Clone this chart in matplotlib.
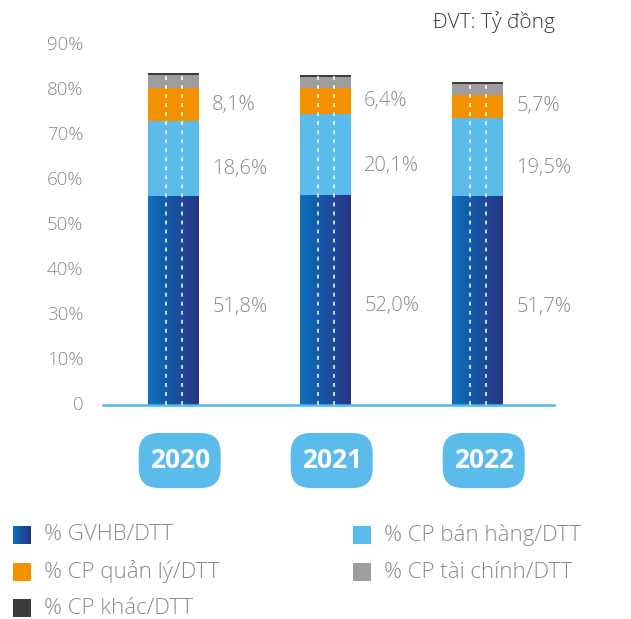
import numpy as np
import matplotlib
matplotlib.use("Agg")
import matplotlib.pyplot as plt
from matplotlib.patches import FancyBboxPatch, Rectangle
from matplotlib.colors import LinearSegmentedColormap

plt.rcParams['font.family'] = ['Open Sans', 'DejaVu Sans']

# ---- data ----
years = ['2020', '2021', '2022']
gvhb = [51.8, 52.0, 51.7]          # % GVHB/DTT
cp_banhang = [18.6, 20.1, 19.5]    # % CP bán hàng/DTT
cp_quanly = [8.1, 6.4, 5.7]        # % CP quản lý/DTT
cp_taichinh = [3.4, 2.8, 2.6]      # % CP tài chính/DTT (estimated)
cp_khac = [0.5, 0.5, 0.5]          # % CP khác/DTT (estimated)
ytick_labels = ['0', '10%', '30%', '40%', '50%', '60%', '70%', '80%', '90%']
legend_labels = ['% GVHB/DTT', '% CP bán hàng/DTT', '% CP quản lý/DTT',
                 '% CP tài chính/DTT', '% CP khác/DTT']
unit_text = 'ĐVT: Tỷ đồng'

# ---- style ----
c_light = '#5bbcec'
c_orange = '#f39200'
c_gray = '#9d9d9d'
c_dark = '#3c3c3c'
c_axis = '#4ab8e8'
c_text = '#8a8a8a'
grad_cmap = LinearSegmentedColormap.from_list('g', ['#0b70bd', '#283584'])

W, H = 631, 619
fig = plt.figure(figsize=(W / 100, H / 100), dpi=100)
px_per_unit = 4.035
ax_top_px, ax_base_px, ax_left_px, ax_right_px = 30, 405, 103, 554
ax = fig.add_axes([ax_left_px / W, (H - ax_base_px) / H,
                   (ax_right_px - ax_left_px) / W, (ax_base_px - ax_top_px) / H])
ymax = (ax_base_px - ax_top_px) / px_per_unit
spacing = 152.0
x = np.arange(len(years))
bw = 51 / spacing

bottom = np.zeros(len(years))
bars_g = ax.bar(x, gvhb, bw, color='none', edgecolor='none', zorder=2)
grad = np.linspace(0, 1, 64).reshape(1, -1)
for xi, r, v in zip(x, bars_g, gvhb):
    im = ax.imshow(grad, extent=[xi - bw / 2, xi + bw / 2, 0, v], aspect='auto',
                   cmap=grad_cmap, zorder=2, interpolation='bilinear')
    im.set_clip_path(r)
bottom += np.array(gvhb)
for vals, col in [(cp_banhang, c_light), (cp_quanly, c_orange),
                  (cp_taichinh, c_gray), (cp_khac, c_dark)]:
    ax.bar(x, vals, bw, bottom=bottom, color=col, edgecolor='none', zorder=2)
    bottom += np.array(vals)
totals = bottom.copy()

# white dashed lines inside bars
off = 8 / spacing
for xi, t in zip(x, totals):
    for dx in (-off, off):
        ax.plot([xi + dx, xi + dx], [0, t - 0.3], color='white', lw=1.3,
                ls=(0, (2.2, 2.8)), zorder=4, alpha=0.85)

# value labels
lab_off = 13 / spacing
frac = [0.47, 0.36, 0.5]
for i, xi in enumerate(x):
    b0 = 0
    for vals, f in zip((gvhb, cp_banhang, cp_quanly), frac):
        v = vals[i]
        ax.text(xi + bw / 2 + lab_off, b0 + v * f, f'{v:.1f}%'.replace('.', ','),
                ha='left', va='center', fontsize=14.5, color=c_text,
                fontweight='light')
        b0 += v

ax.set_xlim(-(173.7 - ax_left_px) / spacing, (ax_right_px - 173.7) / spacing)
ax.set_ylim(0, ymax)
step = 45 / px_per_unit
ax.set_yticks(np.arange(len(ytick_labels)) * step + 0.5)
ax.set_yticklabels(ytick_labels, fontsize=13.5, color=c_text, fontweight='light')
ax.tick_params(axis='y', length=0, pad=14)
ax.set_xticks([])
for s in ['top', 'right', 'left']:
    ax.spines[s].set_visible(False)
ax.spines['bottom'].set_color(c_axis)
ax.spines['bottom'].set_linewidth(1.8)
ax.patch.set_visible(False)

# overlay in pixel coordinates
ov2 = fig.add_axes([0, 0, 1, 1])
ov2.set_xlim(0, W)
ov2.set_ylim(H, 0)
ov2.axis('off')

fig.canvas.draw()
for xi, yr in zip(x, years):
    cx = ax.transData.transform((xi, 0))[0] + 6
    bwid, bh = 82, 55
    box = FancyBboxPatch((cx - bwid / 2, 433), bwid, bh,
                         boxstyle='round,pad=0,rounding_size=20',
                         facecolor=c_light, edgecolor='none')
    ov2.add_patch(box)
    ov2.text(cx, 461, yr, ha='center', va='center', color='white',
             fontsize=19, fontweight='bold')

ov2.text(555, 22, unit_text, ha='right', va='center', fontsize=15,
         color='#3a3a3a', fontweight='light')

# legend
leg_pos = [(13, 535), (353, 535), (13, 572), (353, 572), (13, 608)]
leg_cols = [None, c_light, c_orange, c_gray, c_dark]
sq = 18
for (lx, ly), col, lab in zip(leg_pos, leg_cols, legend_labels):
    if col is None:
        ov2.imshow(grad, extent=[lx, lx + sq, ly + sq / 2, ly - sq / 2],
                   cmap=grad_cmap, aspect='auto', interpolation='bilinear')
    else:
        ov2.add_patch(Rectangle((lx, ly - sq / 2), sq, sq, facecolor=col,
                                edgecolor='none'))
    ov2.text(lx + 31, ly, lab, ha='left', va='center', fontsize=16,
             color=c_text, fontweight='light')
ov2.set_xlim(0, W)
ov2.set_ylim(H, 0)

fig.savefig('out.png', dpi=100)
